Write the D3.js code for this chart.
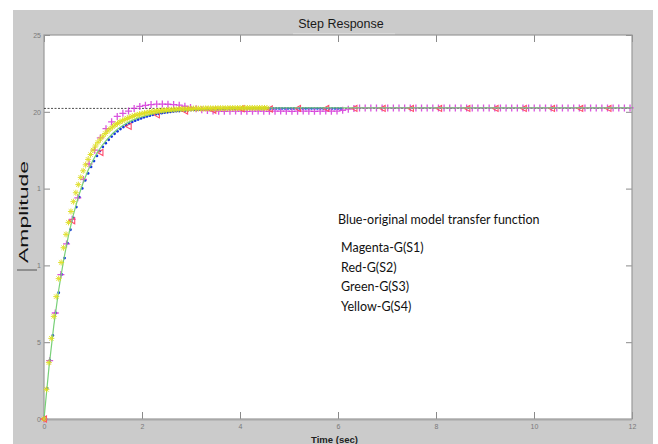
<!DOCTYPE html>
<html><head><meta charset="utf-8">
<script src="https://cdn.jsdelivr.net/npm/d3@7/dist/d3.min.js"></script>
<style>body{margin:0;background:#fff}svg{display:block}</style>
</head><body>
<svg id="c" width="658" height="444"></svg>
<script>
// ---- data ----
const xTicks = [0, 2, 4, 6, 8, 10, 12];
const xTickLabels = ["0", "2", "4", "6", "8", "10", "12"];
const yTicks = [0, 5, 10, 15, 20, 25];
const yTickLabels = ["0", "5", "1", "1", "20", "25"];
const steadyValue = 20.22;

// Blue: original model (dots), sample step 0.06 s
const blueStep = 0.06;
const blueValues = [0, 2.00, 3.81, 5.44, 6.90, 8.22, 9.41, 10.48, 11.45, 12.32, 13.10, 13.80, 14.44, 15.01, 15.53, 15.99, 16.41, 16.79, 17.13, 17.44, 17.71, 17.96, 18.18, 18.39, 18.57, 18.73, 18.88, 19.01, 19.13, 19.24, 19.34, 19.42, 19.50, 19.57, 19.64, 19.70, 19.75, 19.80, 19.84, 19.87, 19.91, 19.94, 19.97, 19.99, 20.02, 20.04, 20.05, 20.07, 20.08, 20.10, 20.11, 20.12, 20.13, 20.14, 20.15, 20.16, 20.16, 20.17, 20.17, 20.18, 20.18, 20.19, 20.19, 20.20, 20.20, 20.20, 20.21, 20.21, 20.21, 20.21, 20.22, 20.22, 20.22, 20.22, 20.22, 20.22, 20.22, 20.22, 20.22, 20.22, 20.22, 20.22, 20.22, 20.22, 20.22, 20.22, 20.22, 20.22, 20.22, 20.22, 20.22, 20.22, 20.22, 20.22, 20.22, 20.22, 20.22, 20.22, 20.22, 20.22, 20.22, 20.22];

// Magenta: G(S1) (+ markers), sample step 0.115 s
const magentaStep = 0.115;
const magentaValues = [0, 3.8, 6.9, 9.4, 11.4, 13.0, 14.4, 15.6, 16.6, 17.5, 18.3, 18.9, 19.35, 19.7, 19.9, 20.05, 20.22, 20.35, 20.42, 20.47, 20.5, 20.5, 20.49, 20.47, 20.43, 20.36, 20.28, 20.2, 20.13, 20.08, 20.05, 20.04, 20.03, 20.04, 20.05, 20.04, 20.03, 20.04, 20.05, 20.04, 20.03, 20.04, 20.05, 20.04, 20.03, 20.04, 20.05, 20.04, 20.03, 20.04, 20.05, 20.04, 20.05, 20.1, 20.17, 20.22, 20.25, 20.25, 20.25, 20.25, 20.25, 20.25, 20.25, 20.25, 20.25, 20.25, 20.25, 20.25, 20.25, 20.25, 20.25, 20.25, 20.25, 20.25, 20.25, 20.25, 20.25, 20.25, 20.25, 20.25, 20.25, 20.25, 20.25, 20.25, 20.25, 20.25, 20.25, 20.25, 20.25, 20.25, 20.25, 20.25, 20.25, 20.25, 20.25, 20.25, 20.25, 20.25, 20.25, 20.25, 20.25, 20.25, 20.25, 20.25, 20.25];

// Red: G(S2) (< markers), sample step 0.576 s
const redStep = 0.576;
const redValues = [0, 12.9, 17.35, 19.05, 19.8, 20.05, 20.1, 20.2, 20.18, 20.22, 20.22, 20.22, 20.22, 20.22, 20.22, 20.22, 20.22, 20.22, 20.22, 20.22, 20.22];

// Green: G(S3) (line)
const greenTimes = [0, 0.1, 0.2, 0.3, 0.4, 0.5, 0.6, 0.7, 0.8, 0.9, 1.0, 1.1, 1.2, 1.3, 1.4, 1.5, 1.6, 1.7, 1.8, 1.9, 2.0, 2.1, 2.2, 2.3, 2.4, 2.5, 2.6, 2.7, 2.8, 2.9, 3.0, 3.5, 4, 5, 6, 8, 10, 12];
const greenValues = [0, 3.31, 6.08, 8.40, 10.34, 11.96, 13.31, 14.45, 15.40, 16.19, 16.85, 17.41, 17.87, 18.26, 18.59, 18.86, 19.09, 19.28, 19.44, 19.57, 19.68, 19.77, 19.85, 19.92, 19.97, 20.02, 20.06, 20.09, 20.11, 20.14, 20.15, 20.2, 20.23, 20.25, 20.25, 20.25, 20.25, 20.25];

// Yellow: G(S4) (* markers), sample step 0.05 s
const yellowStep = 0.05;
const yellowValues = [0, 1.93, 3.67, 5.25, 6.68, 7.97, 9.14, 10.19, 11.15, 12.02, 12.80, 13.51, 14.15, 14.73, 15.26, 15.73, 16.16, 16.55, 16.90, 17.22, 17.51, 17.77, 18.01, 18.22, 18.41, 18.59, 18.75, 18.89, 19.02, 19.14, 19.24, 19.34, 19.42, 19.50, 19.57, 19.64, 19.70, 19.75, 19.80, 19.84, 19.88, 19.91, 19.95, 19.97, 20.00, 20.02, 20.05, 20.07, 20.08, 20.10, 20.11, 20.13, 20.14, 20.15, 20.16, 20.17, 20.18, 20.18, 20.19, 20.20, 20.20, 20.21, 20.21, 20.21, 20.21, 20.21, 20.22, 20.22, 20.22, 20.22, 20.22, 20.23, 20.23, 20.23, 20.23, 20.23, 20.24, 20.24, 20.24, 20.24, 20.24, 20.25, 20.25, 20.25, 20.25, 20.25, 20.25, 20.25, 20.25, 20.25, 20.25, 20.25];

const annotationLines = ["Magenta-G(S1)", "Red-G(S2)", "Green-G(S3)", "Yellow-G(S4)"];

// ---- drawing ----
const svg = d3.select("#c");
const L = 44, R = 632, T = 35, B = 419;
const x = d3.scaleLinear().domain([0, 12]).range([L, R]);
const y = d3.scaleLinear().domain([0, 25]).range([B, T]);

svg.append("rect").attr("x", 13).attr("y", 10).attr("width", 640).attr("height", 434).attr("fill", "#cbcbcb");
svg.append("rect").attr("x", L).attr("y", T).attr("width", R - L).attr("height", B - T).attr("fill", "#fff");

// title
svg.append("text").attr("x", 341).attr("y", 27.5).attr("text-anchor", "middle")
  .attr("font-family", "Liberation Sans, Arial, sans-serif").attr("font-size", 12.5).attr("fill", "#1a1a1a")
  .text("Step Response");
svg.append("line").attr("x1", 293).attr("x2", 395).attr("y1", 34).attr("y2", 34).attr("stroke", "#e6e6e6");

// axes with inward ticks
const tickStyle = g => {
  g.selectAll(".domain").remove();
  g.selectAll(".tick line").attr("stroke", "#8a8a8a");
  g.selectAll(".tick text").attr("fill", "#7a7a7a").attr("font-size", 7).attr("font-family", "Liberation Sans, Arial, sans-serif");
};
svg.append("g").attr("transform", `translate(0,${B})`)
  .call(d3.axisBottom(x).tickValues(xTicks).tickSize(-7).tickPadding(4).tickFormat((d, i) => xTickLabels[i]))
  .call(tickStyle).call(g => g.selectAll(".tick text").attr("dy", "0.71em").attr("y", 5));
svg.append("g").attr("transform", `translate(0,${T})`)
  .call(d3.axisTop(x).tickValues(xTicks).tickSize(-7).tickFormat(""))
  .call(tickStyle);
svg.append("g").attr("transform", `translate(${L},0)`)
  .call(d3.axisLeft(y).tickValues(yTicks).tickSize(-6).tickPadding(3).tickFormat((d, i) => yTickLabels[i]))
  .call(tickStyle);
svg.append("g").attr("transform", `translate(${R},0)`)
  .call(d3.axisRight(y).tickValues(yTicks).tickSize(-6).tickFormat(""))
  .call(tickStyle);

// plot border
svg.append("rect").attr("x", L).attr("y", T).attr("width", R - L).attr("height", B - T)
  .attr("fill", "none").attr("stroke", "#9a9a9a").attr("stroke-width", 1.2);
svg.append("line").attr("x1", L).attr("x2", R).attr("y1", B + 0.8).attr("y2", B + 0.8).attr("stroke", "#a8a8a8").attr("stroke-width", 1.5);

// steady-state dashed line
svg.append("line").attr("x1", x(0)).attr("x2", x(12)).attr("y1", y(steadyValue)).attr("y2", y(steadyValue))
  .attr("stroke", "#222").attr("stroke-width", 0.8).attr("stroke-dasharray", "2,1.5");

const plot = svg.append("g");
const pts = (vals, step) => vals.map((v, i) => [i * step, v]);

// blue dots
plot.append("g").selectAll("circle").data(pts(blueValues, blueStep)).join("circle")
  .attr("cx", d => x(d[0])).attr("cy", d => y(d[1])).attr("r", 1.4).attr("fill", "#1538e0");

// magenta plus
plot.append("g").selectAll("path").data(pts(magentaValues, magentaStep)).join("path")
  .attr("transform", d => `translate(${x(d[0])},${y(d[1])})`)
  .attr("d", "M-3.5,0H3.5M0,-3.5V3.5").attr("stroke", "#d22ad8").attr("stroke-width", 1.3).attr("opacity", 0.8);

// red left triangles
plot.append("g").selectAll("path").data(pts(redValues, redStep)).join("path")
  .attr("transform", d => `translate(${x(d[0])},${y(d[1])})`)
  .attr("d", "M-3,0L2.5,-3L2.5,3Z").attr("fill", "none").attr("stroke", "#ff4a6a").attr("stroke-width", 1.1);

// green line
plot.append("path").datum(greenTimes.map((t, i) => [t, greenValues[i]]))
  .attr("d", d3.line().x(d => x(d[0])).y(d => y(d[1])))
  .attr("fill", "none").attr("stroke", "#78d078").attr("stroke-width", 1.2);

// yellow stars
plot.append("g").selectAll("path").data(pts(yellowValues, yellowStep)).join("path")
  .attr("transform", d => `translate(${x(d[0])},${y(d[1])})`)
  .attr("d", "M-3,0H3M0,-3V3M-2.2,-2.2L2.2,2.2M-2.2,2.2L2.2,-2.2")
  .attr("stroke", "#dede1c").attr("stroke-width", 1).attr("opacity", 0.9);

// axis labels
svg.append("text").attr("transform", "translate(28,212) rotate(-90)").attr("text-anchor", "middle")
  .attr("font-family", "Liberation Sans, Arial, sans-serif").attr("font-size", 12.5)
  .attr("fill", "#111").attr("textLength", 102).attr("lengthAdjust", "spacingAndGlyphs").text("Amplitude");
svg.append("line").attr("x1", 17).attr("x2", 37).attr("y1", 270).attr("y2", 270).attr("stroke", "#555");
svg.append("text").attr("x", 334.5).attr("y", 442.5).attr("text-anchor", "middle")
  .attr("font-family", "Liberation Sans, Arial, sans-serif").attr("font-size", 9.5).attr("font-weight", "bold")
  .attr("fill", "#222").text("Time (sec)");

// annotation text
const ann = svg.append("g").attr("font-family", "Lato, 'Open Sans', sans-serif").attr("fill", "#111");
ann.append("text").attr("x", 338).attr("y", 224).attr("font-size", 12.5).text("Blue-original model transfer function");
ann.selectAll("text.l").data(annotationLines).join("text").attr("class", "l")
  .attr("x", 341).attr("y", (d, i) => 252 + i * 19.7).attr("font-size", 12.5).text(d => d);
</script>
</body></html>
